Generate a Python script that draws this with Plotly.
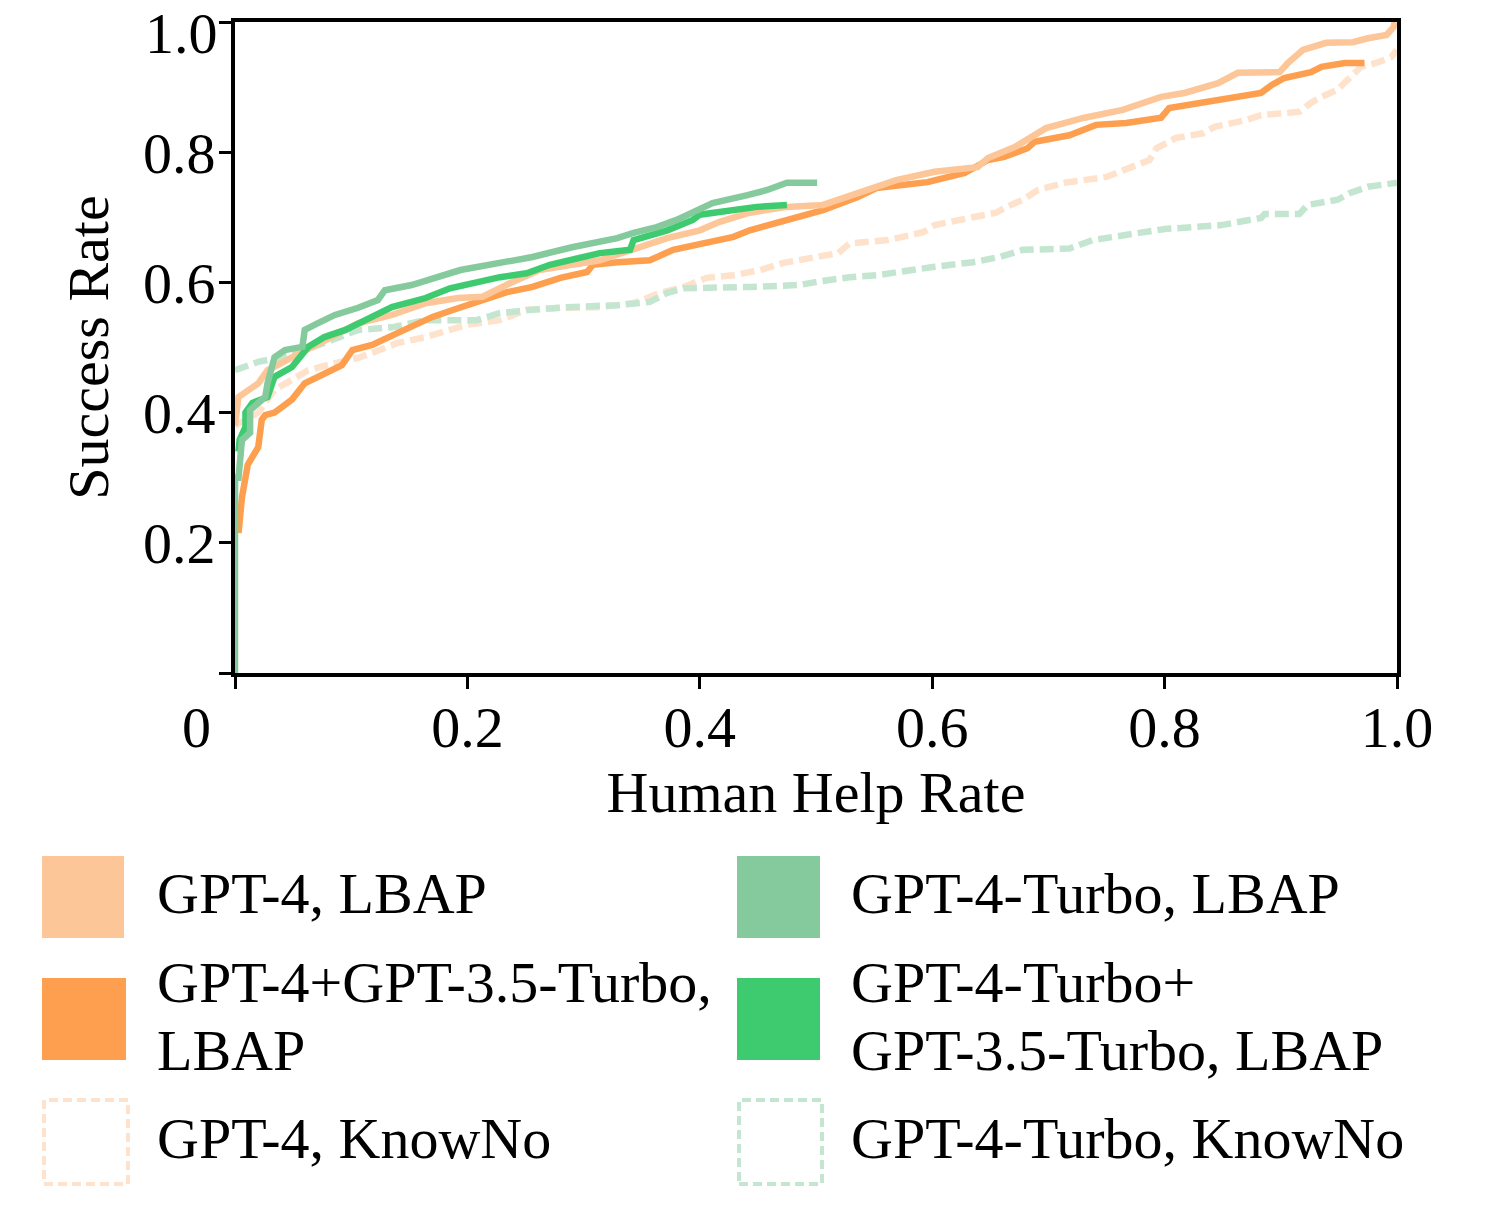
import plotly.graph_objects as go

# ---------------- data ----------------
g4_lbap_x = [0, 0.003, 0.020, 0.028, 0.049, 0.077, 0.106, 0.135, 0.164, 0.192, 0.213, 0.237, 0.262, 0.314,
             0.343, 0.372, 0.400, 0.417, 0.443, 0.475, 0.506, 0.519, 0.552, 0.569, 0.602, 0.639, 0.648, 0.671,
             0.698, 0.731, 0.764, 0.797, 0.817, 0.846, 0.863, 0.899, 0.906, 0.919, 0.939, 0.962, 0.975, 0.991,
             0.997, 0.998]
g4_lbap_y = [0.38, 0.424, 0.445, 0.465, 0.485, 0.51, 0.537, 0.55, 0.568, 0.576, 0.578, 0.599, 0.619, 0.634,
             0.65, 0.668, 0.68, 0.693, 0.707, 0.716, 0.719, 0.727, 0.747, 0.757, 0.77, 0.777, 0.791, 0.808,
             0.837, 0.853, 0.865, 0.885, 0.891, 0.906, 0.922, 0.923, 0.937, 0.957, 0.968, 0.969, 0.975, 0.98,
             0.992, 1.0]

g4_35_x = [0.003, 0.006, 0.011, 0.020, 0.023, 0.026, 0.034, 0.049, 0.060, 0.077, 0.092, 0.101, 0.118, 0.142,
           0.170, 0.188, 0.213, 0.234, 0.256, 0.280, 0.303, 0.308, 0.329, 0.357, 0.377, 0.406, 0.429, 0.443,
           0.466, 0.486, 0.506, 0.536, 0.552, 0.596, 0.628, 0.648, 0.662, 0.682, 0.688, 0.718, 0.741, 0.767,
           0.797, 0.804, 0.833, 0.853, 0.883, 0.892, 0.903, 0.926, 0.935, 0.955, 0.972]
g4_35_y = [0.215, 0.27, 0.32, 0.347, 0.389, 0.396, 0.40, 0.42, 0.445, 0.46, 0.473, 0.496, 0.504, 0.524,
           0.547, 0.558, 0.573, 0.585, 0.593, 0.607, 0.616, 0.627, 0.631, 0.634, 0.65, 0.66, 0.67, 0.68,
           0.691, 0.699, 0.711, 0.731, 0.745, 0.754, 0.768, 0.788, 0.793, 0.806, 0.816, 0.826, 0.842, 0.845,
           0.853, 0.868, 0.877, 0.883, 0.891, 0.903, 0.914, 0.923, 0.931, 0.937, 0.937]

g4_kn_x = [0, 0.020, 0.034, 0.049, 0.063, 0.086, 0.106, 0.120, 0.140, 0.164, 0.200, 0.228, 0.251, 0.280,
           0.314, 0.343, 0.366, 0.386, 0.406, 0.429, 0.452, 0.472, 0.501, 0.519, 0.529, 0.562, 0.592, 0.602,
           0.635, 0.655, 0.664, 0.678, 0.691, 0.714, 0.750, 0.767, 0.787, 0.793, 0.810, 0.833, 0.843, 0.869,
           0.883, 0.916, 0.926, 0.935, 0.949, 0.955, 0.969, 0.982, 0.995, 1.0]
g4_kn_y = [0.38, 0.40, 0.435, 0.45, 0.465, 0.476, 0.484, 0.493, 0.507, 0.516, 0.535, 0.542, 0.558, 0.561,
           0.562, 0.568, 0.584, 0.593, 0.607, 0.611, 0.619, 0.63, 0.639, 0.645, 0.66, 0.665, 0.677, 0.688,
           0.70, 0.707, 0.716, 0.727, 0.742, 0.753, 0.762, 0.773, 0.788, 0.806, 0.822, 0.829, 0.839, 0.849,
           0.857, 0.862, 0.876, 0.885, 0.896, 0.907, 0.931, 0.937, 0.946, 0.957]

t_lbap_x = [0, 0, 0.003, 0.006, 0.013, 0.013, 0.026, 0.028, 0.034, 0.043, 0.058, 0.060, 0.071, 0.086,
            0.106, 0.123, 0.129, 0.152, 0.194, 0.245, 0.256, 0.290, 0.329, 0.343, 0.363, 0.380, 0.394,
            0.411, 0.441, 0.458, 0.475, 0.501]
t_lbap_y = [0.0, 0.30, 0.30, 0.358, 0.369, 0.404, 0.424, 0.445, 0.485, 0.496, 0.501, 0.527, 0.537, 0.55,
            0.561, 0.573, 0.588, 0.596, 0.619, 0.634, 0.639, 0.654, 0.668, 0.676, 0.685, 0.696, 0.707,
            0.722, 0.734, 0.742, 0.753, 0.753]

t_35_x = [0.003, 0.004, 0.009, 0.009, 0.015, 0.028, 0.034, 0.049, 0.063, 0.077, 0.095, 0.112, 0.135, 0.164,
          0.185, 0.228, 0.251, 0.271, 0.299, 0.314, 0.340, 0.343, 0.372, 0.394, 0.400, 0.429, 0.449, 0.475]
t_35_y = [0.34, 0.358, 0.378, 0.40, 0.415, 0.424, 0.455, 0.47, 0.501, 0.516, 0.527, 0.542, 0.562, 0.576,
          0.591, 0.608, 0.614, 0.627, 0.639, 0.645, 0.65, 0.665, 0.68, 0.696, 0.704, 0.711, 0.716, 0.719]

t_kn_x = [0, 0.020, 0.049, 0.077, 0.106, 0.135, 0.164, 0.208, 0.228, 0.256, 0.286, 0.329, 0.357, 0.372,
          0.386, 0.443, 0.486, 0.501, 0.529, 0.552, 0.579, 0.602, 0.635, 0.658, 0.678, 0.718, 0.738, 0.767,
          0.800, 0.849, 0.863, 0.883, 0.886, 0.916, 0.923, 0.949, 0.959, 0.975, 1.0]
t_kn_y = [0.465, 0.478, 0.488, 0.507, 0.527, 0.531, 0.542, 0.542, 0.553, 0.558, 0.562, 0.565, 0.57, 0.584,
          0.591, 0.593, 0.596, 0.601, 0.608, 0.611, 0.619, 0.624, 0.631, 0.639, 0.65, 0.652, 0.665, 0.673,
          0.682, 0.688, 0.693, 0.699, 0.705, 0.705, 0.719, 0.727, 0.737, 0.747, 0.753]

labels = ["GPT-4, LBAP", "GPT-4+GPT-3.5-Turbo,", "LBAP", "GPT-4, KnowNo",
          "GPT-4-Turbo, LBAP", "GPT-4-Turbo+", "GPT-3.5-Turbo, LBAP", "GPT-4-Turbo, KnowNo"]
x_ticks = [0, 0.2, 0.4, 0.6, 0.8, 1.0]
x_tick_text = ["", "0.2", "0.4", "0.6", "0.8", "1.0"]
y_ticks = [0, 0.2, 0.4, 0.6, 0.8, 1.0]
y_tick_text = ["", "0.2", "0.4", "0.6", "0.8", ""]

C_G4 = "#FDC698"
C_G435 = "#FD9F4F"
C_G4KN = "#FEE2CB"
C_T = "#85CA9C"
C_T35 = "#3ECB70"
C_TKN = "#C4E6D1"

FONT = "Liberation Serif"
FS = 58

fig = go.Figure()
series = [
    (g4_kn_x, g4_kn_y, C_G4KN, "14px,6px"),
    (t_kn_x, t_kn_y, C_TKN, "14px,6px"),
    (g4_35_x, g4_35_y, C_G435, "solid"),
    (g4_lbap_x, g4_lbap_y, C_G4, "solid"),
    (t_35_x, t_35_y, C_T35, "solid"),
    (t_lbap_x, t_lbap_y, C_T, "solid"),
]
for xs, ys, c, d in series:
    fig.add_trace(go.Scatter(x=xs, y=ys, mode="lines", line=dict(color=c, width=6.5, dash=d),
                             showlegend=False, hoverinfo="skip"))

axis_common = dict(showline=True, linecolor="black", linewidth=4, mirror=True, ticks="outside",
                   ticklen=12, tickwidth=3, tickcolor="black", showgrid=False, zeroline=False,
                   tickfont=dict(family=FONT, size=FS, color="black"))
fig.update_xaxes(range=[0, 1], tickvals=x_ticks, ticktext=x_tick_text, ticklabelstandoff=-12,
                 title=dict(text="Human Help Rate", font=dict(family=FONT, size=FS, color="black"), standoff=5),
                 **axis_common)
fig.update_yaxes(range=[0, 1], tickvals=y_ticks, ticktext=y_tick_text, ticklabelstandoff=-8,
                 title=dict(text="Success Rate", font=dict(family=FONT, size=FS, color="black"), standoff=17),
                 **axis_common)

# screen-pixel layout of the plot area
L, R, T, B = 235, 1397, 22, 673
W, H = 1495, 1209


def px(x):
    return (x - L) / (R - L)


def py(y):
    return (B - y) / (B - T)


# "0" origin label and top "1.0" label
fig.add_annotation(x=px(196), y=py(727), xref="paper", yref="paper", text="0", showarrow=False,
                   font=dict(family=FONT, size=FS, color="black"), xanchor="center", yanchor="middle")
fig.add_annotation(x=0, y=1.0, xref="paper", yref="y", text="1.0", showarrow=False, xshift=-15, yshift=-11,
                   font=dict(family=FONT, size=FS, color="black"), xanchor="right", yanchor="middle")

# custom legend
boxes = [
    (42, 856, 124, 938, C_G4, False),
    (42, 978, 126, 1060, C_G435, False),
    (44, 1100, 128, 1184, C_G4KN, True),
    (737, 856, 820, 938, C_T, False),
    (737, 978, 820, 1060, C_T35, False),
    (739, 1100, 822, 1184, C_TKN, True),
]
for x0, y0, x1, y1, c, dashed in boxes:
    if dashed:
        fig.add_shape(type="rect", xref="paper", yref="paper", x0=px(x0), x1=px(x1), y0=py(y1), y1=py(y0),
                      line=dict(color=c, width=4, dash="9px,5px"), fillcolor="rgba(0,0,0,0)")
    else:
        fig.add_shape(type="rect", xref="paper", yref="paper", x0=px(x0), x1=px(x1), y0=py(y1), y1=py(y0),
                      line=dict(width=0), fillcolor=c)

text_pos = [(155, 893), (155, 982), (155, 1050), (155, 1138),
            (849, 893), (849, 982), (849, 1050), (849, 1138)]
for (tx, ty), lab in zip(text_pos, labels):
    fig.add_annotation(x=px(tx), y=py(ty), xref="paper", yref="paper", text=lab, showarrow=False,
                       xanchor="left", yanchor="middle", font=dict(family=FONT, size=FS, color="black"))

fig.update_layout(width=W, height=H,
                  margin=dict(l=L, r=W - R, t=T, b=H - B, autoexpand=False),
                  plot_bgcolor="white", paper_bgcolor="white", font=dict(family=FONT, size=FS, color="black"))

fig.write_html("out.html", config={"displayModeBar": False},
               post_script="document.body.style.margin='0';document.body.style.overflow='hidden';")
